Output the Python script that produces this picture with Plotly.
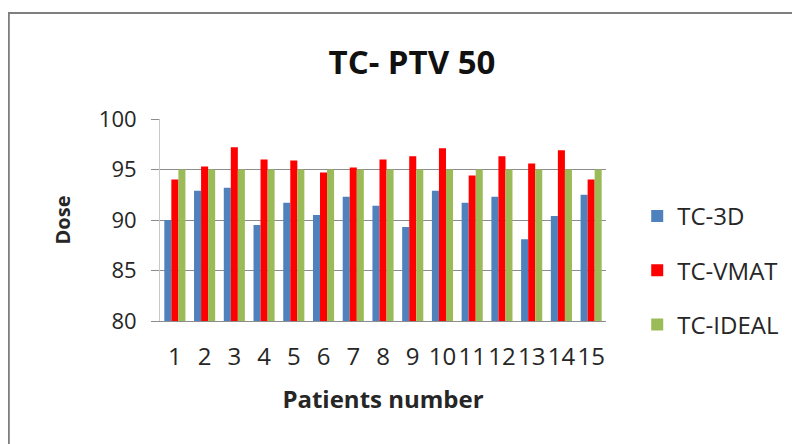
import plotly.graph_objects as go

patients = [str(i) for i in range(1, 16)]
tc_3d = [90.0, 92.9, 93.2, 89.5, 91.7, 90.5, 92.3, 91.4, 89.3, 92.9, 91.7, 92.3, 88.1, 90.4, 92.5]
tc_vmat = [94.0, 95.3, 97.2, 96.0, 95.9, 94.7, 95.2, 96.0, 96.3, 97.1, 94.4, 96.3, 95.6, 96.9, 94.0]
tc_ideal = [95, 95, 95, 95, 95, 95, 95, 95, 95, 95, 95, 95, 95, 95, 95]

font = "Open Sans, Liberation Sans, sans-serif"
fig = go.Figure()
for name, vals, col in [("TC-3D", tc_3d, "#4F81BD"), ("TC-VMAT", tc_vmat, "#FF0000"), ("TC-IDEAL", tc_ideal, "#9BBB59")]:
    fig.add_trace(go.Bar(x=patients, y=vals, name=name, marker_color=col, marker_line_width=0, legendgroup=name))

fig.update_layout(
    width=800, height=444,
    margin=dict(l=152, r=202, t=111, b=131),
    paper_bgcolor="white", plot_bgcolor="white",
    barmode="group", bargap=0.29, bargroupgap=0,
    title=dict(text="<b>TC- PTV 50</b>", x=0.505, xanchor="center", y=0.878, yanchor="middle",
               font=dict(family=font, size=33, color="#111")),
    font=dict(family=font, color="#262626"),
    legend=dict(x=1.07, y=0.25, xanchor="left", yanchor="middle", font=dict(size=24, color="#262626"),
                tracegroupgap=20, traceorder="grouped", itemwidth=30),
    xaxis=dict(type="category", showline=True, linecolor="#8c8c8c", linewidth=1, ticks="",
               tickmode="array", tickvals=patients, ticktext=patients,
               tickangle=0, ticklabelstandoff=14,
               tickfont=dict(size=24), title=dict(text="<b>Patients number</b>", font=dict(size=24), standoff=20)),
    yaxis=dict(range=[80, 100], dtick=5, showgrid=True, gridcolor="#8c8c8c", gridwidth=1,
               showline=True, linecolor="#c8c8c8", ticks="outside", ticklen=8, tickcolor="#8c8c8c",
               ticklabelstandoff=10,
               tickfont=dict(size=22), title=dict(text="<b>Dose</b>", font=dict(size=20), standoff=22),
               zeroline=False),
    shapes=[dict(type="rect", xref="paper", yref="paper", x0=-0.339, x1=1.7, y0=-0.7, y1=1.525,
                 line=dict(color="#7f7f7f", width=2), layer="below")],
)
fig.write_html("out.html")
